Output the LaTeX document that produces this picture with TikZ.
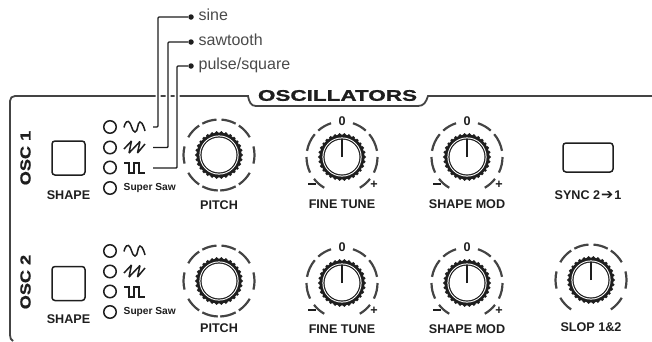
\documentclass[tikz,border=0pt]{standalone}
\usepackage{fontspec}
\setmainfont{Liberation Sans}
\newfontfamily\titlefont[FakeStretch=1.46,FakeBold=1.2]{Liberation Sans Bold}
\newfontfamily\oscfont[FakeStretch=1.25,FakeBold=1.2]{Liberation Sans Bold}
\newfontfamily\arrowfont{DejaVu Sans}
\usetikzlibrary{positioning, arrows.meta, calc}
\definecolor{panel_gray}{HTML}{444444}
\definecolor{note_gray}{HTML}{4A4A4A}
\definecolor{print_black}{HTML}{1E1E1E}
\tikzstyle{knob} = [circle, fill=print_black, minimum size=45pt, inner sep=0pt]
\tikzstyle{led} = [circle, draw=print_black, line width=1.5pt, minimum size=12.5pt, inner sep=0pt]
\tikzstyle{pad} = [rectangle, rounded corners=3pt, draw=print_black, line width=1.5pt, inner sep=0pt]
\tikzstyle{wave} = [print_black, line width=1.5pt]
\tikzstyle{ticks} = [panel_gray, line width=2.2pt]
\tikzstyle{frame} = [panel_gray, line width=1.8pt]
\tikzstyle{leader} = [print_black, line width=1.4pt, rounded corners=1pt, preaction={draw=white, line width=5pt}]
\tikzstyle{label} = [font=\fontsize{12.6}{14}\selectfont\bfseries, text=print_black, inner sep=0pt]
\tikzstyle{small} = [font=\fontsize{10.2}{12}\selectfont\bfseries, text=print_black, inner sep=0pt]
\tikzstyle{note} = [font=\fontsize{16}{18}\selectfont, text=note_gray, inner sep=0pt, anchor=west, text height=12pt, text depth=3.5pt, yshift=1.25pt]
\tikzstyle{dot} = [circle, fill=print_black, minimum size=5.5pt, inner sep=0pt]

\begin{document}
\begin{tikzpicture}[x=1pt, y=1pt, node distance=125pt]
        \useasboundingbox (0,0) rectangle (652,-341);
        % panel outline
        \draw [frame] (10,-335) .. controls (10,-338) and (11,-340) .. (13,-341);
        \draw [frame] (10,-335) -- (10,-101) .. controls (10,-98) and (12,-96) .. (15,-96) -- (248,-96)
            .. controls (249,-102) and (251,-106) .. (256,-106) -- (418,-106)
            .. controls (424,-106) and (426,-102) .. (428,-96) -- (652,-96);
        \node (title) [font=\fontsize{15.4}{17}\titlefont, text=print_black, inner sep=0pt] at (337.5,-95.5) {OSCILLATORS};
        \node (oscone) [font=\fontsize{14.5}{16}\oscfont, text=print_black, inner sep=0pt, rotate=90] at (25.5,-158) {OSC 1};
        \node (osctwo) [font=\fontsize{14.5}{16}\oscfont, text=print_black, inner sep=0pt, rotate=90] at (25.5,-282) {OSC 2};

        % knobs
        \node (pitchone) [knob] at (219,-155) {};
        \node (fineone) [knob] at (342,-157) {};
        \node (modone) [knob, right of=fineone] {};
        \node (pitchtwo) [knob, below of=pitchone, yshift=-1pt] {};
        \node (finetwo) [knob, below of=fineone, yshift=-1pt] {};
        \node (modtwo) [knob, below of=modone, yshift=-1pt] {};
        \node (slop) [knob, right of=modtwo, xshift=-1pt, yshift=3pt] {};
        \foreach \k in {pitchone,fineone,modone,pitchtwo,finetwo,modtwo,slop} {
            \begin{scope}[shift={(\k)}]
                \foreach \a in {0,12,...,348}
                    \fill [print_black] (\a:22.4) circle (1.7);
                \fill [white] (0,0) circle (19.6);
                \fill [print_black] (0,0) circle (18.6);
                \fill [white] (0,0) circle (17.4);
            \end{scope}
        }
        % pointers
        \foreach \k in {fineone,modone,finetwo,modtwo,slop}
            \draw [print_black, line width=2.2pt] (\k.center) -- ++(0,18);
        % scale rings
        \foreach \k in {pitchone,pitchtwo} {
            \foreach \s/\e in {94/118,124/150,166/194,210/236,242/268,272/298,304/330,346/374,30/56,62/86} {
                \draw [ticks] ($(\k)+(\s:35.5)$) arc (\s:\e:35.5);
            }
        }
        \foreach \k in {fineone,modone,finetwo,modtwo} {
            \foreach \s/\e in {108/132,140/170,180/206,218/240,-60/-38,-26/0,10/40,48/72} {
                \draw [ticks] ($(\k)+(\s:35.5)$) arc (\s:\e:35.5);
            }
            \node (\k zero) [label, above of=\k, node distance=35.5pt] {0};
            \node (\k minus) [label, below of=\k, node distance=27pt, xshift=-30pt] {\rule{7.5pt}{1.5pt}};
            \node (\k plus) [label, below of=\k, node distance=28pt, xshift=32pt] {+};
        }
        \foreach \s/\e in {94/118,124/150,166/194,210/236,-56/-30,-14/14,30/56,62/86} {
            \draw [ticks] ($(slop)+(\s:35.5)$) arc (\s:\e:35.5);
        }

        % knob labels
        \node (pitchonetext) [label, below of=pitchone, node distance=50pt] {PITCH};
        \node (fineonetext) [label, below of=fineone, node distance=47.5pt] {FINE TUNE};
        \node (modonetext) [label, below of=modone, node distance=47.5pt] {SHAPE MOD};
        \node (pitchtwotext) [label, below of=pitchtwo, node distance=47pt] {PITCH};
        \node (finetwotext) [label, below of=finetwo, node distance=46pt] {FINE TUNE};
        \node (modtwotext) [label, below of=modtwo, node distance=46pt] {SHAPE MOD};
        \node (sloptext) [label, below of=slop, node distance=47pt] {SLOP 1\&2};

        % buttons
        \node (shapeone) [pad, minimum width=33pt, minimum height=34pt] at (68.5,-158) {};
        \node (shapetwo) [pad, minimum width=33pt, minimum height=34pt, below of=shapeone, yshift=-0.5pt] {};
        \node (shapeonetext) [label, below of=shapeone, node distance=37pt] {SHAPE};
        \node (shapetwotext) [label, below of=shapetwo, node distance=36pt] {SHAPE};
        \node (sync) [pad, minimum width=50pt, minimum height=29pt] at (588,-157.5) {};
        \node (synctext) [label, below of=sync, node distance=38pt] {SYNC 2\kern1pt{\arrowfont\fontsize{14.5}{12}\selectfont ➔}\kern1pt 1};

        % selectors
        \foreach \o/\d in {one/0,two/124} {
            \begin{scope}[yshift=-\d pt]
                \node (sine\o) [led] at (110,-127) {};
                \node (saw\o) [led] at (110,-147.5) {};
                \node (pulse\o) [led] at (110,-167.5) {};
                \node (super\o) [led] at (110,-188) {};
                \node (supertext\o) [small, right=6.5pt of super\o] {Super Saw};
                \draw [wave] plot [smooth, tension=1] coordinates {(124,-127.5) (128.5,-121.5) (135,-132) (140,-122) (145,-131)};
                \draw [wave, line join=bevel] (124,-149) -- (131.5,-141) -- (129,-153) -- (140,-141.5) -- (137.5,-153) -- (145,-144);
                \draw [wave] (124,-163) -- (129,-163) -- (129,-173) -- (134,-173) -- (134,-163) -- (139,-163) -- (139,-173) -- (145,-173);
            \end{scope}
        }

        % callouts
        \coordinate (sinestart) at (153,-127);
        \coordinate (sawstart) at (153,-147.5);
        \coordinate (pulsestart) at (153,-168);
        \node (sinedot) [dot] at (191,-17) {};
        \node (sawdot) [dot] at (191,-42) {};
        \node (pulsedot) [dot] at (191,-66) {};
        \node (sinetext) [note, right=4.5pt of sinedot] {sine};
        \node (sawtext) [note, right=4.5pt of sawdot] {sawtooth};
        \node (pulsetext) [note, right=4.5pt of pulsedot] {pulse/square};
        \draw [leader] (pulsestart) -| (177,-66) -- (pulsedot);
        \draw [leader] (sawstart) -| (168,-42) -- (sawdot);
        \draw [leader] (sinestart) -| (158,-17) -- (sinedot);
    \end{tikzpicture}
\end{document}
